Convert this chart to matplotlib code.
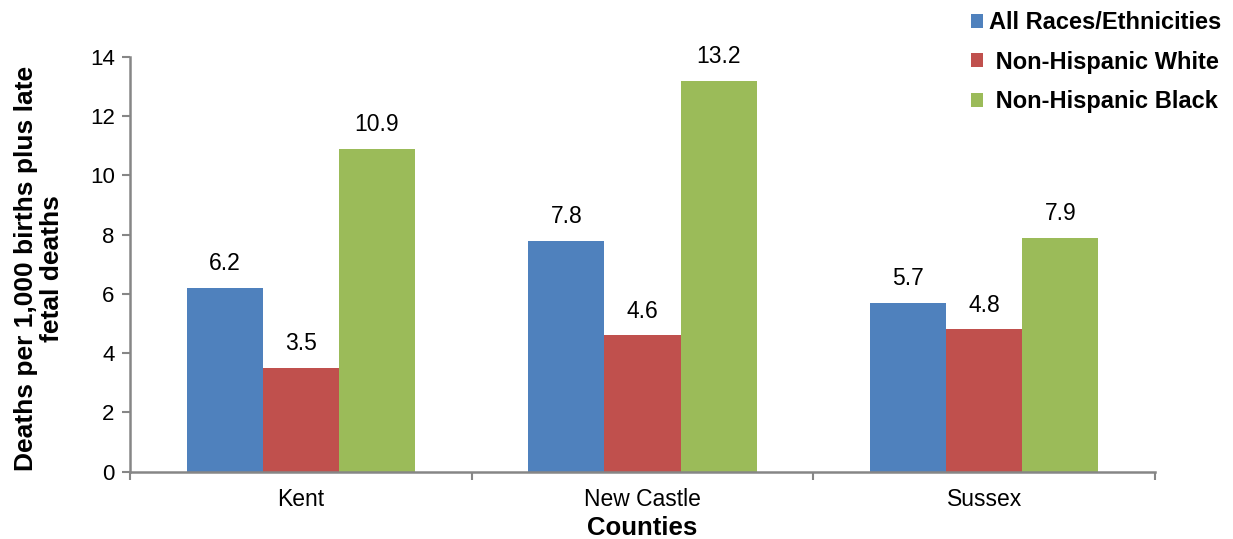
import matplotlib
matplotlib.use("Agg")
import matplotlib.pyplot as plt
import numpy as np

plt.rcParams['font.family'] = ['Liberation Sans', 'DejaVu Sans']

counties = ["Kent", "New Castle", "Sussex"]
series_names = ["All Races/Ethnicities", "Non-Hispanic White", "Non-Hispanic Black"]
all_races = [6.2, 7.8, 5.7]
nh_white = [3.5, 4.6, 4.8]
nh_black = [10.9, 13.2, 7.9]
y_ticks = [0, 2, 4, 6, 8, 10, 12, 14]

colors = ["#4F81BD", "#C0504D", "#9BBB59"]
legend_labels = [series_names[0], " " + series_names[1], " " + series_names[2]]

fig = plt.figure(figsize=(12.33, 5.39), dpi=100)
ax = fig.add_axes([130/1233, 1-471.5/539, (1155-130)/1233, (471.5-57)/539])

x = np.arange(len(counties))
w = 0.223
offsets = [-w, 0, w]
for vals, off, c, lab in zip([all_races, nh_white, nh_black], offsets, colors, legend_labels):
    bars = ax.bar(x + off, vals, width=w, color=c, label=lab, edgecolor='none')
    for b, v in zip(bars, vals):
        ax.annotate(f"{v:.1f}", (b.get_x() + b.get_width()/2, v), xytext=(0, 9),
                    textcoords='offset points', ha='center', va='bottom', fontsize=16.5)

ax.set_xlim(-0.5, len(counties) - 0.5)
ax.set_ylim(0, 14)
ax.set_yticks(y_ticks)
ax.set_yticklabels([str(t) for t in y_ticks], fontsize=16)
ax.set_xticks([-0.5, 0.5, 1.5, 2.5])
ax.set_xticklabels([])
ax.set_xticks(x, minor=True)
ax.set_xticklabels(counties, minor=True, fontsize=16.5)
ax.tick_params(axis='x', which='minor', length=0, pad=12)
ax.tick_params(axis='x', which='major', length=6, width=1.5, color='#868686', direction='out')
ax.tick_params(axis='y', length=6, width=1.5, color='#868686', direction='out', pad=5)

for s in ['top', 'right']:
    ax.spines[s].set_visible(False)
for s in ['left', 'bottom']:
    ax.spines[s].set_color('#868686')
    ax.spines[s].set_linewidth(1.8)

ax.set_xlabel("Counties", fontsize=18.5, fontweight='bold')
ax.xaxis.set_label_coords(0.5, -0.108)
ax.set_ylabel("Deaths per 1,000 births plus late\nfetal deaths", fontsize=19, fontweight='bold',
              linespacing=1.1)
ax.yaxis.set_label_coords(-0.064, 0.49)

leg = ax.legend(loc='upper left', bbox_to_anchor=(971/1233, 1 - 11/539), bbox_transform=fig.transFigure,
                frameon=False, prop={'weight': 'bold', 'size': 17},
                handlelength=0.52, handleheight=0.52, handletextpad=0.25, labelspacing=0.7,
                borderaxespad=0, borderpad=0)

fig.savefig("out.png", dpi=100)
